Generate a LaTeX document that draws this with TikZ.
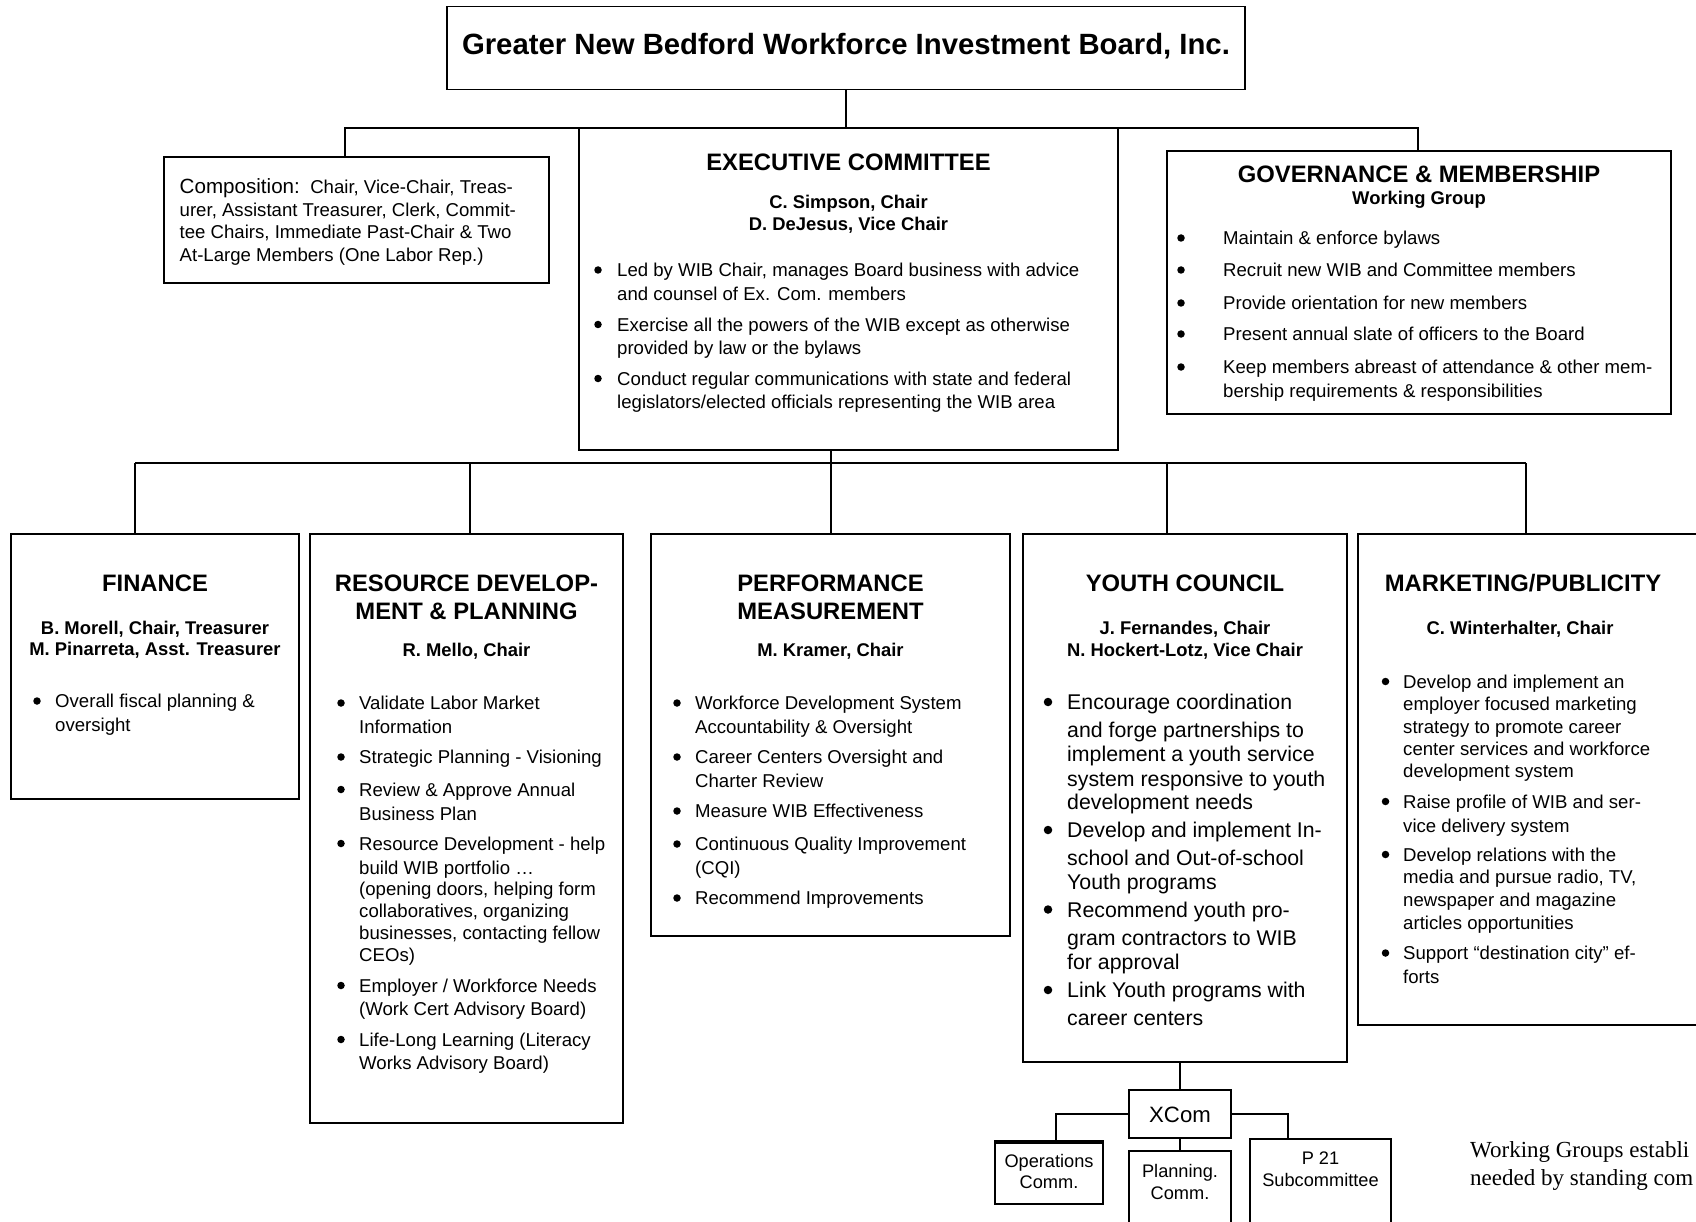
\documentclass[tikz,border=0pt]{standalone}
\usepackage{fontspec}
\setmainfont{Liberation Sans}
\newfontfamily\serifit{Liberation Serif}
\newcounter{lnc}
\newcommand\fbody{\fontsize{18.6}{22}\selectfont}
\newcommand\fyouth{\fontsize{21.3}{25}\selectfont}
\newcommand\fhead{\fontsize{23.8}{28}\selectfont\bfseries}
\newcommand\fsub{\fontsize{18.4}{22}\selectfont\bfseries}
\newcommand\ftitle{\fontsize{29.3}{34}\selectfont\bfseries}
\newcommand\fsmall{\fontsize{18.2}{22}\selectfont}
\newcommand\Ln[4][]{\stepcounter{lnc}\node[txt,#1] (n\thelnc) at (#2,#3) {#4};}
\newcommand\Ct[4][]{\stepcounter{lnc}\node[ctr,#1] (n\thelnc) at (#2,#3) {#4};}
\newcommand\Bu[3][]{\stepcounter{lnc}\node[bul,#1] (n\thelnc) at (#2,#3) {};}
\tikzset{
  box/.style={draw, line width=1.8pt, anchor=north west, inner sep=0pt, outer sep=0pt},
  wire/.style={line width=1.8pt},
  txt/.style={anchor=base west, inner sep=0pt, font=\fbody},
  ctr/.style={anchor=base, inner sep=0pt, font=\fbody},
  bul/.style={circle, fill=black, inner sep=0pt, minimum size=7.5pt, yshift=6.5pt},
  bigbul/.style={minimum size=8.5pt, yshift=1pt},
}
\begin{document}
\begin{tikzpicture}[x=1pt,y=-1pt]
\useasboundingbox (0,0) rectangle (1696,1222);
\clip (0,0) rectangle (1696,1222);
% boxes
\node[box,minimum width=798pt,minimum height=83pt] (top) at (447,6.5) {};
\node[box,minimum width=385pt,minimum height=126pt] (comp) at (164,157) {};
\node[box,minimum width=539pt,minimum height=322pt] (exec) at (579,128) {};
\node[box,minimum width=504pt,minimum height=263pt] (gov) at (1167,151) {};
\node[box,minimum width=288pt,minimum height=265pt] (fin) at (11,534) {};
\node[box,minimum width=313pt,minimum height=589pt] (res) at (310,534) {};
\node[box,minimum width=359pt,minimum height=402pt] (perf) at (651,534) {};
\node[box,minimum width=324pt,minimum height=528pt] (youth) at (1023,534) {};
\node[box,minimum width=370pt,minimum height=491pt] (mkt) at (1358,534) {};
\node[box,minimum width=102pt,minimum height=48pt] (xcom) at (1129,1090) {};
\node[box,minimum width=108pt,minimum height=63pt] (ops) at (995,1141) {};
\node[box,minimum width=102pt,minimum height=95pt] (plan) at (1129,1151) {};
\node[box,minimum width=141pt,minimum height=100pt] (ptw) at (1250,1139) {};
\draw[line width=4.5pt] ([yshift=-1pt]ops.north west) -- ([yshift=-1pt]ops.north east);
% connectors
\coordinate (hl) at (345,128);
\coordinate (hr) at (1418,128);
\coordinate (bm) at (831,463);
\coordinate (b1) at (135,463);
\coordinate (b2) at (470,463);
\coordinate (b4) at (1167,463);
\coordinate (b5) at (1526,463);
\coordinate (ol) at (1056,1114);
\coordinate (orr) at (1288,1114);
\draw[wire] (top.south) -- (top.south |- exec.north);
\draw[wire] (hl |- comp.north) -- (hl) -- (hr) -- (hr |- gov.north);
\draw[wire] (bm |- exec.south) -- (bm);
\draw[wire] (b1) -- (b5);
\draw[wire] (b1) -- (b1 |- fin.north);
\draw[wire] (b2) -- (b2 |- res.north);
\draw[wire] (bm) -- (bm |- perf.north);
\draw[wire] (b4) -- (b4 |- youth.north);
\draw[wire] (b5) -- (b5 |- mkt.north);
\draw[wire] (xcom.north |- youth.south) -- (xcom.north);
\draw[wire] (xcom.west) -- (ol) -- (ol |- ops.north);
\draw[wire] (xcom.east) -- (orr) -- (orr |- ptw.north);
\draw[wire] (xcom.south) -- (plan.north);
% title
\Ct[font=\ftitle]{846}{54.5}{Greater New Bedford Workforce Investment Board, Inc.}
% composition
\Ln{179.5}{193.5}{{\fontsize{20.6}{22}\selectfont Composition:}\ \ Chair, Vice-Chair, Treas-}
\Ln{179.5}{216.5}{urer, Assistant Treasurer, Clerk, Commit-}
\Ln{179.5}{239}{tee Chairs, Immediate Past-Chair \& Two}
\Ln{179.5}{261.5}{At-Large Members (One Labor Rep.)}
% executive
\Ct[font=\fhead]{848.5}{170.5}{EXECUTIVE COMMITTEE}
\Ct[font=\fsub]{848.5}{208.6}{C. Simpson, Chair}
\Ct[font=\fsub]{848.5}{230.6}{D. DeJesus, Vice Chair}
\Bu{598}{276.5}\Ln{617}{276.5}{Led by WIB Chair, manages Board business with advice}
\Ln{617}{300.5}{and counsel of Ex. Com. members}
\Bu{598}{331}\Ln{617}{331}{Exercise all the powers of the WIB except as otherwise}
\Ln{617}{354.5}{provided by law or the bylaws}
\Bu{598}{385}\Ln{617}{385}{Conduct regular communications with state and federal}
\Ln{617}{408.5}{legislators/elected officials representing the WIB area}
% governance
\Ct[font=\fhead]{1419}{182.5}{GOVERNANCE \& MEMBERSHIP}
\Ct[font=\fsub]{1419}{204.5}{Working Group}
\Bu{1181}{244.5}\Ln{1223}{244.5}{Maintain \& enforce bylaws}
\Bu{1181}{276.5}\Ln{1223}{276.5}{Recruit new WIB and Committee members}
\Bu{1181}{309.5}\Ln{1223}{309.5}{Provide orientation for new members}
\Bu{1181}{340.5}\Ln{1223}{340.5}{Present annual slate of officers to the Board}
\Bu{1181}{373.5}\Ln{1223}{373.5}{Keep members abreast of attendance \& other mem-}
\Ln{1223}{397}{bership requirements \& responsibilities}
% finance
\Ct[font=\fhead]{155}{591.5}{FINANCE}
\Ct[font=\fsub]{155}{634.6}{B. Morell, Chair, Treasurer}
\Ct[font=\fsub]{155}{655.6}{M. Pinarreta, Asst. Treasurer}
\Bu{37}{707.5}\Ln{55}{707.5}{Overall fiscal planning \&}
\Ln{55}{731.5}{oversight}
% resource
\Ct[font=\fhead]{466.5}{591.5}{RESOURCE DEVELOP-}
\Ct[font=\fhead]{466.5}{619.5}{MENT \& PLANNING}
\Ct[font=\fsub]{466.5}{656.6}{R. Mello, Chair}
\Bu{341}{709.5}\Ln{359}{709.5}{Validate Labor Market}
\Ln{359}{733.5}{Information}
\Bu{341}{763.5}\Ln{359}{763.5}{Strategic Planning - Visioning}
\Bu{341}{796}\Ln{359}{796}{Review \& Approve Annual}
\Ln{359}{820}{Business Plan}
\Bu{341}{850}\Ln{359}{850}{Resource Development - help}
\Ln{359}{874}{build WIB portfolio …}
\Ln{359}{895.5}{(opening doors, helping form}
\Ln{359}{917}{collaboratives, organizing}
\Ln{359}{939}{businesses, contacting fellow}
\Ln{359}{961.5}{CEOs)}
\Bu{341}{992}\Ln{359}{992}{Employer / Workforce Needs}
\Ln{359}{1015.5}{(Work Cert Advisory Board)}
\Bu{341}{1046}\Ln{359}{1046}{Life-Long Learning (Literacy}
\Ln{359}{1069.5}{Works Advisory Board)}
% performance
\Ct[font=\fhead]{830.5}{591.5}{PERFORMANCE}
\Ct[font=\fhead]{830.5}{619.5}{MEASUREMENT}
\Ct[font=\fsub]{830.5}{656.6}{M. Kramer, Chair}
\Bu{677}{709.5}\Ln{695}{709.5}{Workforce Development System}
\Ln{695}{733.5}{Accountability \& Oversight}
\Bu{677}{763.5}\Ln{695}{763.5}{Career Centers Oversight and}
\Ln{695}{787.5}{Charter Review}
\Bu{677}{817.5}\Ln{695}{817.5}{Measure WIB Effectiveness}
\Bu{677}{850.5}\Ln{695}{850.5}{Continuous Quality Improvement}
\Ln{695}{874}{(CQI)}
\Bu{677}{904.5}\Ln{695}{904.5}{Recommend Improvements}
% youth
\Ct[font=\fhead]{1185}{591.5}{YOUTH COUNCIL}
\Ct[font=\fsub]{1185}{634.6}{J. Fernandes, Chair}
\Ct[font=\fsub]{1185}{656.6}{N. Hockert-Lotz, Vice Chair}
\Bu[bigbul]{1048}{709.5}\Ln[font=\fyouth]{1067}{709.5}{Encourage coordination}
\Ln[font=\fyouth]{1067}{737.5}{and forge partnerships to}
\Ln[font=\fyouth]{1067}{761.5}{implement a youth service}
\Ln[font=\fyouth]{1067}{786.5}{system responsive to youth}
\Ln[font=\fyouth]{1067}{809}{development needs}
\Bu[bigbul]{1048}{837.5}\Ln[font=\fyouth]{1067}{837.5}{Develop and implement In-}
\Ln[font=\fyouth]{1067}{865}{school and Out-of-school}
\Ln[font=\fyouth]{1067}{889}{Youth programs}
\Bu[bigbul]{1048}{917}\Ln[font=\fyouth]{1067}{917}{Recommend youth pro-}
\Ln[font=\fyouth]{1067}{945}{gram contractors to WIB}
\Ln[font=\fyouth]{1067}{969}{for approval}
\Bu[bigbul]{1048}{997.5}\Ln[font=\fyouth]{1067}{997.5}{Link Youth programs with}
\Ln[font=\fyouth]{1067}{1025.5}{career centers}
% marketing
\Ct[font=\fhead]{1523}{591.5}{MARKETING/PUBLICITY}
\Ct[font=\fsub]{1520}{634.6}{C. Winterhalter, Chair}
\Bu{1385.5}{688}\Ln{1403}{688}{Develop and implement an}
\Ln{1403}{710.5}{employer focused marketing}
\Ln{1403}{733.5}{strategy to promote career}
\Ln{1403}{755}{center services and workforce}
\Ln{1403}{777.5}{development system}
\Bu{1385.5}{808}\Ln{1403}{808}{Raise profile of WIB and ser-}
\Ln{1403}{832}{vice delivery system}
\Bu{1385.5}{861}\Ln{1403}{861}{Develop relations with the}
\Ln{1403}{883.5}{media and pursue radio, TV,}
\Ln{1403}{906.5}{newspaper and magazine}
\Ln{1403}{929}{articles opportunities}
\Bu{1385.5}{959.5}\Ln{1403}{959.5}{Support “destination city” ef-}
\Ln{1403}{983}{forts}
% xcom tree
\Ct[font=\fontsize{22.2}{26}\selectfont]{1180}{1122}{XCom}
\Ct[font=\fsmall]{1049}{1167}{Operations}
\Ct[font=\fsmall]{1049}{1188.5}{Comm.}
\Ct[font=\fsmall]{1180}{1177.5}{Planning.}
\Ct[font=\fsmall]{1180}{1199.5}{Comm.}
\Ct[font=\fsmall]{1320.5}{1164.5}{P 21}
\Ct[font=\fsmall]{1320.5}{1186.5}{Subcommittee}
% note (as far as the reference shows it)
\Ln[font=\serifit\fontsize{23}{28}\selectfont]{1470}{1157}{Working Groups establi}
\Ln[font=\serifit\fontsize{23}{28}\selectfont]{1470}{1185}{needed by standing com}
\end{tikzpicture}
\end{document}
